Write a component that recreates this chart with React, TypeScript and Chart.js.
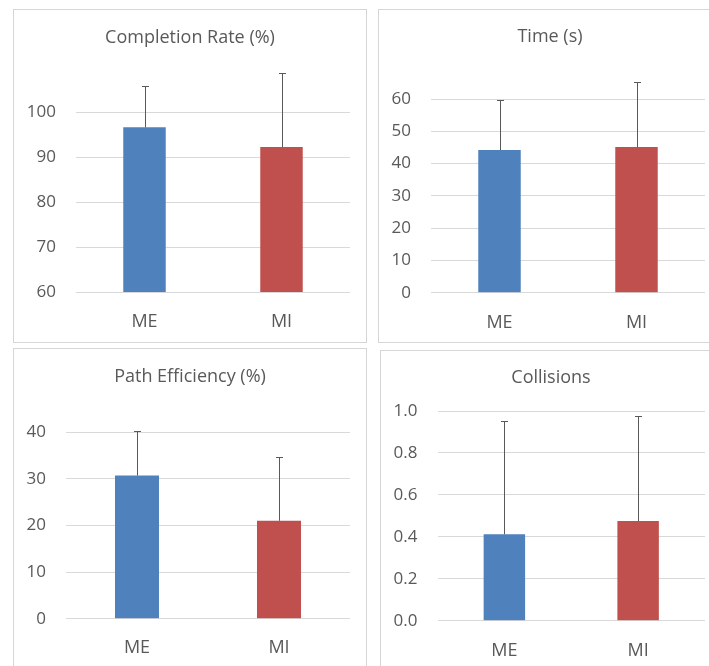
import React, { useEffect, useRef } from 'react';
import { Chart, registerables } from 'chart.js';

Chart.register(...registerables);

// ---- data ----
const categories = ['ME', 'MI'];
const barColors = ['#4F81BD', '#C0504D'];

const completionMean = [96.6, 92.2];
const completionSD = [9.2, 16.5];
const completionTicks = { min: 60, max: 100, step: 10, decimals: 0 };

const timeMean = [44.2, 45.1];
const timeSD = [15.6, 20.1];
const timeTicks = { min: 0, max: 60, step: 10, decimals: 0 };

const pathMean = [30.7, 21.0];
const pathSD = [9.6, 13.7];
const pathTicks = { min: 0, max: 40, step: 10, decimals: 0 };

const collisionMean = [0.412, 0.475];
const collisionSD = [0.539, 0.5];
const collisionTicks = { min: 0, max: 1, step: 0.2, decimals: 1 };

const FONT = "'Open Sans', sans-serif";
const TEXT = '#595959';

type Panel = {
  title: string;
  means: number[];
  sds: number[];
  ticks: { min: number; max: number; step: number; decimals: number };
  box: [number, number, number, number];
  plot: [number, number, number, number];
  titleBaseline: number;
  labelPad: number;
};

const panels: Panel[] = [
  {
    title: 'Completion Rate (%)',
    means: completionMean,
    sds: completionSD,
    ticks: completionTicks,
    box: [13, 9, 367, 343],
    plot: [76, 112, 350, 292],
    titleBaseline: 42.7,
    labelPad: 11,
  },
  {
    title: 'Time (s)',
    means: timeMean,
    sds: timeSD,
    ticks: timeTicks,
    box: [378, 9, 722, 343],
    plot: [431, 99, 705, 292.7],
    titleBaseline: 41.5,
    labelPad: 11,
  },
  {
    title: 'Path Efficiency (%)',
    means: pathMean,
    sds: pathSD,
    ticks: pathTicks,
    box: [13, 347.5, 367, 690],
    plot: [66, 431.7, 350, 618.7],
    titleBaseline: 381,
    labelPad: 10,
  },
  {
    title: 'Collisions',
    means: collisionMean,
    sds: collisionSD,
    ticks: collisionTicks,
    box: [380, 350, 722, 690],
    plot: [437.5, 411, 705, 620.7],
    titleBaseline: 383.3,
    labelPad: 11,
  },
];

function ChartPanel({ p }: { p: Panel }) {
  const ref = useRef<HTMLCanvasElement>(null);
  const [bl, bt, br, bb] = p.box;
  const w = br - bl;
  const h = bb - bt;

  useEffect(() => {
    const [pl, pt, pr, pb] = p.plot;
    const titlePlugin = {
      id: 'panelTitle',
      afterDraw(chart: any) {
        const ctx = chart.ctx;
        ctx.save();
        ctx.font = `18px ${FONT}`;
        ctx.fillStyle = TEXT;
        ctx.textAlign = 'center';
        ctx.textBaseline = 'alphabetic';
        ctx.fillText(p.title, w / 2, p.titleBaseline - bt);
        ctx.restore();
      },
    };
    const errPlugin = {
      id: 'errorBars',
      afterDatasetsDraw(chart: any) {
        const meta = chart.getDatasetMeta(0);
        const ys = chart.scales.y;
        const ctx = chart.ctx;
        ctx.save();
        ctx.strokeStyle = '#595959';
        ctx.lineWidth = 1;
        meta.data.forEach((el: any, i: number) => {
          const x = Math.round(el.x) + 0.5;
          const y0 = el.y;
          const y1 = Math.round(ys.getPixelForValue(p.means[i] + p.sds[i])) + 0.5;
          ctx.beginPath();
          ctx.moveTo(x, y0);
          ctx.lineTo(x, y1);
          ctx.moveTo(x - 3.5, y1);
          ctx.lineTo(x + 3.5, y1);
          ctx.stroke();
        });
        ctx.restore();
      },
    };
    const chart = new Chart(ref.current as HTMLCanvasElement, {
      type: 'bar',
      data: {
        labels: categories,
        datasets: [
          {
            data: p.means,
            backgroundColor: barColors,
            borderWidth: 0,
            categoryPercentage: 1,
            barPercentage: 0.31,
          },
        ],
      },
      options: {
        animation: false,
        responsive: false,
        events: [],
        layout: { padding: { left: 0, top: pt - bt, right: br - pr, bottom: 0 } },
        plugins: {
          legend: { display: false },
          title: { display: false },
          tooltip: { enabled: false },
        },
        scales: {
          x: {
            grid: { display: false },
            border: { display: false },
            ticks: { padding: p.labelPad, font: { family: FONT, size: 18 }, color: TEXT },
            afterFit(scale: any) {
              scale.height = bb - pb;
            },
          },
          y: {
            min: p.ticks.min,
            max: p.ticks.max,
            grid: { color: '#d9d9d9', lineWidth: 1, drawTicks: false },
            border: { display: false },
            ticks: {
              stepSize: p.ticks.step,
              padding: 20,
              font: { family: FONT, size: 17 },
              color: TEXT,
              callback: (v: any) => Number(v).toFixed(p.ticks.decimals),
            },
            afterFit(scale: any) {
              scale.width = pl - bl;
            },
          },
        },
      } as any,
      plugins: [titlePlugin, errPlugin],
    });
    return () => chart.destroy();
  }, []);

  return (
    <>
      <div
        style={{
          position: 'absolute',
          left: bl,
          top: bt,
          width: w,
          height: h,
          boxSizing: 'border-box',
          border: '1px solid #d6d6d6',
          background: '#fff',
        }}
      />
      <canvas
        ref={ref}
        width={w}
        height={h}
        style={{ position: 'absolute', left: bl, top: bt, width: w, height: h }}
      />
    </>
  );
}

export default function App() {
  return (
    <div
      style={{
        position: 'fixed',
        left: 0,
        top: 0,
        width: 709,
        height: 666,
        overflow: 'hidden',
        background: '#fff',
      }}
    >
      {panels.map((p) => (
        <ChartPanel key={p.title} p={p} />
      ))}
    </div>
  );
}
